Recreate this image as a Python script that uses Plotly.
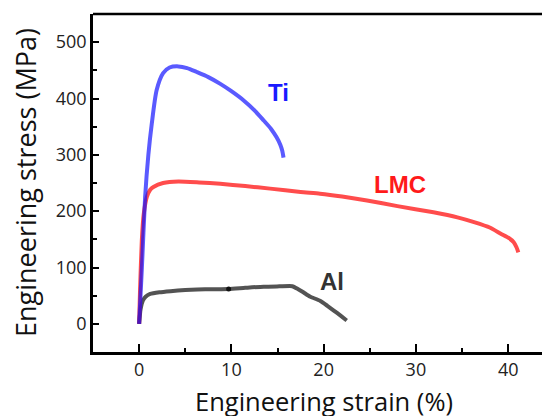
import plotly.graph_objects as go

# Ti (blue)
ti_x = [0, 0.3, 0.65, 1.0, 1.37, 1.9, 2.6, 3.3, 4.26, 5.2, 6.25, 7.5, 8.8, 10.0, 11.3, 12.5, 13.5, 14.3, 14.9, 15.3, 15.5, 15.65]
ti_y = [0, 100, 225, 300, 355, 415, 445, 455, 457, 454, 447, 438, 426, 413, 397, 379, 361, 346, 331, 318, 308, 295]

# LMC (red)
lmc_x = [0, 0.1, 0.29, 0.5, 0.83, 1.2, 1.55, 2.6, 4.26, 6.5, 8.8, 11.5, 14.2, 17.5, 19.6, 22.0, 24.7, 28.0, 31.9, 34.5, 36.3, 38.0, 39.2, 40.1, 40.6, 40.9, 41.1]
lmc_y = [0, 60, 148, 195, 225, 238, 243, 250, 252.7, 251, 248.7, 244.5, 240, 234, 231, 226, 219, 209, 198, 189, 180.5, 171, 160, 152, 145, 136, 127]

# Al (gray)
al_x = [0, 0.15, 0.4, 0.7, 1.2, 2.2, 3.4, 5.0, 6.3, 8.0, 9.7, 11.5, 13.5, 15.2, 16.6, 17.2, 17.8, 18.5, 19.6, 20.4, 21.1, 21.8, 22.5]
al_y = [0, 25, 41, 48, 53, 56, 58, 60, 61, 61.5, 62, 64, 66, 66.5, 66.8, 62, 56, 48.5, 41, 32, 23.6, 15, 6]

# dot marker on Al curve
dot_x = [9.7]
dot_y = [62]

labels = ["Ti", "LMC", "Al"]
label_x = [15.1, 28.25, 20.9]
label_y = [411, 247, 75]
label_colors = ["#1a1aff", "#ff1a1a", "#333333"]

x_title = "Engineering strain (%)"
y_title = "Engineering stress (MPa)"

fig = go.Figure()
fig.add_trace(go.Scatter(x=al_x, y=al_y, mode="lines",
                         line=dict(color="rgba(40,40,40,0.8)", width=4, shape="spline", smoothing=0.5)))
fig.add_trace(go.Scatter(x=lmc_x, y=lmc_y, mode="lines",
                         line=dict(color="rgba(255,0,0,0.7)", width=4, shape="spline", smoothing=0.5)))
fig.add_trace(go.Scatter(x=ti_x, y=ti_y, mode="lines",
                         line=dict(color="rgba(20,20,255,0.7)", width=4, shape="spline", smoothing=0.7)))
fig.add_trace(go.Scatter(x=dot_x, y=dot_y, mode="markers",
                         marker=dict(color="#111111", size=5)))

for t, x, y, c in zip(labels, label_x, label_y, label_colors):
    fig.add_annotation(x=x, y=y, text=t, showarrow=False,
                       font=dict(family="Liberation Sans", size=24, color=c, weight="bold"))

# axis titles as annotations for exact placement
fig.add_annotation(xref="x", yref="paper", x=20.07, y=0, yshift=-49,
                   xanchor="center", yanchor="middle", text=x_title, showarrow=False,
                   font=dict(family="Open Sans", size=25.5, color="#111"))
fig.add_annotation(xref="paper", yref="paper", x=0, xshift=-68, y=0.5,
                   xanchor="center", yanchor="middle", text=y_title, showarrow=False, textangle=-90,
                   font=dict(family="Open Sans", size=27, color="#111"))

axis_common = dict(showline=True, linecolor="black", linewidth=2.5, mirror=False, automargin=False,
                   ticks="inside", tickwidth=2, tickcolor="black", showgrid=False, zeroline=False,
                   tickfont=dict(family="Open Sans", size=18, color="#222"))

fig.update_xaxes(range=[-5, 45.4], tickvals=[0, 10, 20, 30, 40], ticklen=8,
                 minor=dict(ticks="inside", dtick=5, tick0=0, ticklen=4, tickwidth=2, tickcolor="black"),
                 **axis_common)
fig.update_yaxes(range=[-50, 550], tickvals=[0, 100, 200, 300, 400, 500], ticklen=6,
                 minor=dict(ticks="inside", dtick=50, tick0=0, ticklen=4, tickwidth=2, tickcolor="black"),
                 **axis_common)

# top frame line
fig.add_shape(type="line", xref="paper", yref="paper", x0=0, x1=1, y0=1, y1=1,
              line=dict(color="black", width=2.5))

fig.update_layout(width=550, height=416, showlegend=False,
                  plot_bgcolor="white", paper_bgcolor="white",
                  margin=dict(l=85, r=0, t=6, b=72))

fig.write_html("out.html")
